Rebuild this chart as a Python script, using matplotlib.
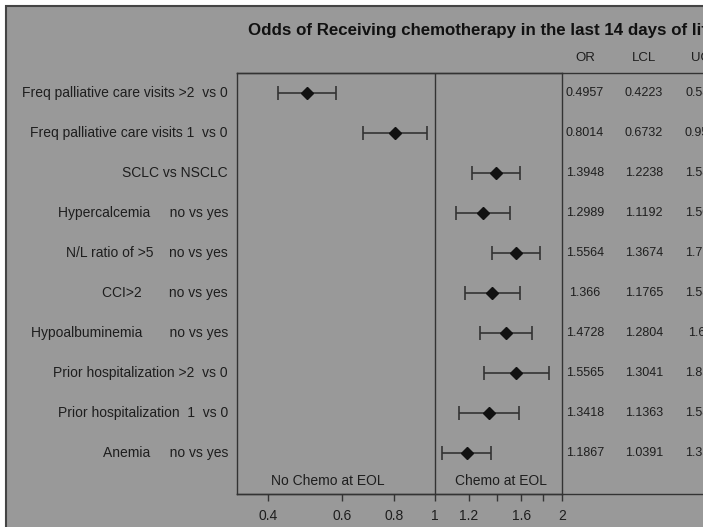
import numpy as np
import matplotlib.pyplot as plt
import matplotlib.transforms as mtransforms
from matplotlib.patches import Rectangle
from matplotlib.lines import Line2D

plt.rcParams['font.family'] = ['Liberation Sans', 'DejaVu Sans']

# --- Data ---
labels = [
    "Freq palliative care visits >2  vs 0",
    "Freq palliative care visits 1  vs 0",
    "SCLC vs NSCLC",
    "Hypercalcemia     no vs yes",
    "N/L ratio of >5    no vs yes",
    "CCI>2       no vs yes",
    "Hypoalbuminemia       no vs yes",
    "Prior hospitalization >2  vs 0",
    "Prior hospitalization  1  vs 0",
    "Anemia     no vs yes",
]
or_vals = [0.4957, 0.8014, 1.3948, 1.2989, 1.5564, 1.366, 1.4728, 1.5565, 1.3418, 1.1867]
lcl_vals = [0.4223, 0.6732, 1.2238, 1.1192, 1.3674, 1.1765, 1.2804, 1.3041, 1.1363, 1.0391]
ucl_vals = [0.5818, 0.9541, 1.5897, 1.5076, 1.7715, 1.5862, 1.694, 1.8577, 1.5846, 1.3553]
tick_vals = [0.4, 0.6, 0.8, 1, 1.2, 1.4, 1.6, 1.8, 2]
tick_text = ["0.4", "0.6", "0.8", "1", "1.2", "", "1.6", "", "2"]

W, H = 703, 527
bg = '#999999'
ink = '#1e1e1e'
line_c = '#333333'

fig = plt.figure(figsize=(W / 100, H / 100), dpi=100)
fig.patch.set_facecolor('white')
fig.add_artist(Rectangle((6 / W, -0.1), 1.2, 1.1 - 6 / H, transform=fig.transFigure,
                         facecolor=bg, edgecolor='#444444', lw=1.5, zorder=0))

# plot box
x0, x1, y0, y1 = 237, 562, 73, 494
ax = fig.add_axes([x0 / W, 1 - y1 / H, (x1 - x0) / W, (y1 - y0) / H])
ax.set_facecolor('none')
ax.set_xscale('log')
ax.set_xlim(0.338, 2.0)
ax.set_ylim(-0.025, 10.5)
for s in ax.spines.values():
    s.set_color(line_c)
    s.set_linewidth(1.0)

n = len(labels)
ypos = np.arange(n, 0, -1)
err = [np.array(or_vals) - np.array(lcl_vals), np.array(ucl_vals) - np.array(or_vals)]
ax.errorbar(or_vals, ypos, xerr=err, fmt='D', color='#111111', ms=6.5, ecolor=line_c,
            elinewidth=1.2, capsize=5, capthick=1.2)
ax.axvline(1, color=line_c, lw=1.0)

ax.set_xticks(tick_vals)
ax.set_xticklabels(tick_text)
ax.xaxis.set_minor_locator(plt.NullLocator())
ax.tick_params(axis='x', direction='out', length=5, width=1, color=line_c,
               labelsize=10, labelcolor=ink, pad=6)
ax.set_yticks([])

ax.text(0.555, 0.3, "No Chemo at EOL", ha='center', va='center', fontsize=10, color=ink)
ax.text(1.43, 0.3, "Chemo at EOL", ha='center', va='center', fontsize=10, color=ink)

# top / bottom rules running across the table
for yy in (y0, y1):
    fig.add_artist(Line2D([x0 / W, 1], [1 - yy / H] * 2, color=line_c, lw=1.0))

# row labels and table
tr = mtransforms.blended_transform_factory(fig.transFigure, ax.transData)
col_x = [585, 644, 704]
for i in range(n):
    ax.text(228 / W, ypos[i], labels[i], transform=tr, ha='right', va='center',
            fontsize=10, color=ink)
    for cx, v in zip(col_x, (or_vals[i], lcl_vals[i], ucl_vals[i])):
        ax.text(cx / W, ypos[i], str(v), transform=tr, ha='center', va='center',
                fontsize=9, color=ink, clip_on=False)

for cx, h in zip(col_x, ["OR", "LCL", "UCL"]):
    fig.text(cx / W, 1 - 58 / H, h, ha='center', va='center', fontsize=9.5, color=ink)

fig.text(248 / W, 1 - 30 / H, "Odds of Receiving chemotherapy in the last 14 days of life",
         ha='left', va='center', fontsize=12.2, fontweight='bold', color='#111111')

fig.savefig('out.png', dpi=100, facecolor=fig.get_facecolor())
